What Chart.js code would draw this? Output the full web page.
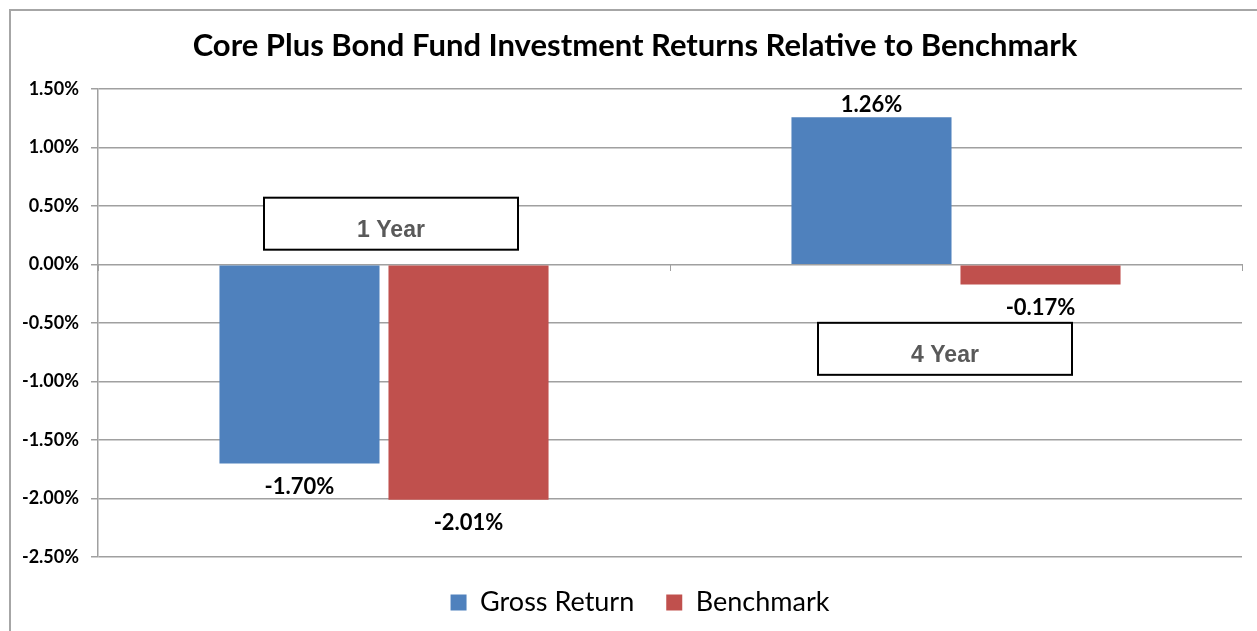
<!DOCTYPE html>
<html>
<head>
<meta charset="utf-8">
<script src="https://cdn.jsdelivr.net/npm/chart.js@4.4.1/dist/chart.umd.min.js"></script>
<style>
  html, body { margin: 0; padding: 0; background: #fff; }
  #wrap { position: relative; width: 1257px; height: 631px; overflow: hidden; }
  #frame { position: absolute; left: 9px; top: 9px; width: 1400px; height: 800px;
           border-left: 2px solid #a6a6a6; border-top: 2px solid #a6a6a6; pointer-events: none; }
  canvas { position: absolute; left: 0; top: 0; }
</style>
</head>
<body>
<div id="wrap">
  <canvas id="c" width="1257" height="631"></canvas>
  <div id="frame"></div>
</div>
<script>
// ---- data ----
const categories = ["1 Year", "4 Year"];
const grossReturn = [-1.70, 1.26];
const benchmark = [-2.01, -0.17];
const seriesNames = ["Gross Return", "Benchmark"];
const yTicks = [-2.5, -2.0, -1.5, -1.0, -0.5, 0.0, 0.5, 1.0, 1.5];
const periodBoxValue = [0.35, -0.72];   // y-value at which each period box is centered

// ---- styles ----
const BLUE = "#4F81BD";
const RED = "#C0504D";
const GRID = "#a0a0a0";
const FONT = "Lato, 'Open Sans', sans-serif";

const valueLabels = {
  id: "valueLabels",
  afterDatasetsDraw(chart) {
    const ctx = chart.ctx;
    ctx.save();
    ctx.font = "bold 22px " + FONT;
    ctx.fillStyle = "#000";
    ctx.textAlign = "center";
    ctx.textBaseline = "middle";
    chart.data.datasets.forEach((ds, di) => {
      const meta = chart.getDatasetMeta(di);
      meta.data.forEach((bar, i) => {
        const v = ds.data[i];
        const txt = v.toFixed(2) + "%";
        const y = v >= 0 ? bar.y - 12 : bar.y + 23;
        ctx.fillText(txt, bar.x, y);
      });
    });
    ctx.restore();
  }
};

const periodBoxes = {
  id: "periodBoxes",
  afterDatasetsDraw(chart) {
    const ctx = chart.ctx;
    const xs = chart.scales.x, ys = chart.scales.y;
    const offsets = [7, -11];
    ctx.save();
    categories.forEach((cat, i) => {
      const cx = xs.getPixelForValue(i) + offsets[i];
      const cy = ys.getPixelForValue(periodBoxValue[i]);
      const w = 254, h = 52;
      ctx.fillStyle = "#fff";
      ctx.fillRect(cx - w / 2, cy - h / 2, w, h);
      ctx.strokeStyle = "#000";
      ctx.lineWidth = 2;
      ctx.strokeRect(cx - w / 2, cy - h / 2, w, h);
      ctx.fillStyle = "#595959";
      ctx.font = "bold 23px 'Liberation Sans', Arial, sans-serif";
      ctx.textAlign = "center";
      ctx.textBaseline = "middle";
      ctx.fillText(cat, cx, cy + 7);
    });
    ctx.restore();
  }
};

const shiftBlocks = {
  id: "shiftBlocks",
  afterLayout(chart) {
    const t = chart.titleBlock;
    if (t) { t.left += 9; t.right += 9; }
    const l = chart.legend;
    if (l) { l.left += 14; l.right += 14; }
  }
};

new Chart(document.getElementById("c"), {
  type: "bar",
  data: {
    labels: categories,
    datasets: [
      { label: seriesNames[0], data: grossReturn, backgroundColor: BLUE,
        barPercentage: 0.947, categoryPercentage: 0.591 },
      { label: seriesNames[1], data: benchmark, backgroundColor: RED,
        barPercentage: 0.947, categoryPercentage: 0.591 }
    ]
  },
  options: {
    responsive: false,
    animation: false,
    devicePixelRatio: 1,
    layout: { padding: { left: 10, right: 15, top: 10, bottom: 5 } },
    plugins: {
      title: {
        display: true,
        text: "Core Plus Bond Fund Investment Returns Relative to Benchmark",
        color: "#000",
        font: { family: FONT, size: 31, weight: "bold", lineHeight: 1.2 },
        padding: { top: 17, bottom: 25 }
      },
      legend: {
        position: "bottom",
        labels: {
          color: "#000",
          font: { family: FONT, size: 27 },
          boxWidth: 16, boxHeight: 16,
          padding: 32
        }
      },
      tooltip: { enabled: false }
    },
    scales: {
      x: {
        position: { y: 0 },
        ticks: { display: false },
        grid: { drawOnChartArea: false, drawTicks: true, tickLength: 6, offset: true, color: GRID, lineWidth: 1 },
        border: { color: GRID, width: 1 }
      },
      y: {
        min: yTicks[0],
        max: yTicks[yTicks.length - 1],
        afterBuildTicks(scale) { scale.ticks = yTicks.map(v => ({ value: v })); },
        afterFit(scale) { scale.width = 88; },
        ticks: {
          color: "#000",
          font: { family: FONT, size: 18, weight: "bold" },
          padding: 12,
          callback: v => Number(v).toFixed(2) + "%"
        },
        grid: { color: GRID, lineWidth: 1.5, tickLength: 7 },
        border: { color: GRID, width: 1.5 }
      }
    }
  },
  plugins: [valueLabels, periodBoxes, shiftBlocks]
});
</script>
</body>
</html>
